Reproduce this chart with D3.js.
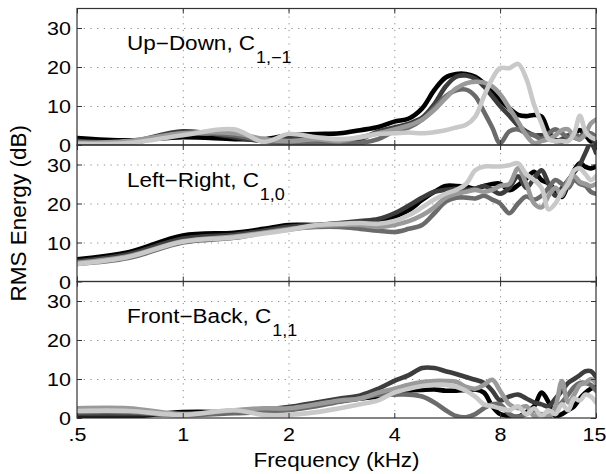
<!DOCTYPE html>
<html>
<head>
<meta charset="utf-8">
<script src="https://cdn.jsdelivr.net/npm/d3@7"></script>
<style>
  body { margin: 0; background: #fff; }
  svg { display: block; }
  text { font-family: "Liberation Sans", Arial, Helvetica, sans-serif; fill: #000; }
</style>
</head>
<body>
<svg id="chart" width="606" height="474"></svg>
<script>
// Frequency grid (kHz) shared by every curve
const freqs = [0.5, 0.7, 1.0, 1.4, 1.7, 2.0, 2.4, 2.8, 3.2, 3.6,
               4.0, 4.4, 4.8, 5.2, 5.6, 6.0, 6.4, 6.8, 7.2, 7.6,
               8.0, 8.5, 9.0, 9.5, 10, 10.5, 11, 11.5, 12, 12.5,
               13, 13.5, 14, 14.5, 15];

const xTicks = [0.5, 1, 2, 4, 8, 15];
const xTickLabels = [".5", "1", "2", "4", "8", "15"];
const yTicks = [0, 10, 20, 30];
const seriesColors = ["#000000", "#3d3d3d", "#6b6b6b", "#9a9a9a", "#c9c9c9"];

const panelNames = ["Up\u2212Down, C", "Left\u2212Right, C", "Front\u2212Back, C"];
const panelSubs = ["1,\u22121", "1,0", "1,1"];

// RMS energy (dB), one row per curve
const upDownLevels = [
  [1.8, 1.2, 2.0, 1.5, 1.5, 2.5, 2.8, 3.0, 3.8, 4.6, 6.0, 6.8, 9.4, 14.1, 17.3, 18.2, 18.2, 17.5, 15.8, 13.7, 11.5, 9.4, 7.7, 7.4, 7.7, 7.3, 3.4, 1.3, 0.9, 1.7, 3.0, 3.8, 2.6, 0.9, 1.3],
  [1.0, 0.8, 3.5, 2.0, 1.0, 1.5, 1.5, 1.0, 1.5, 3.5, 4.5, 5.5, 7.0, 10.5, 15.0, 17.5, 17.8, 17.0, 15.0, 12.5, 10.0, 7.5, 5.0, 3.5, 2.5, 2.5, 2.0, 1.0, 1.5, 2.5, 2.0, 1.5, 4.0, 2.0, 0.5],
  [0.8, 0.5, 3.0, 2.5, 1.0, 0.5, 0.5, 0.3, 0.5, 1.5, 3.5, 4.5, 6.5, 9.5, 12.5, 14.0, 14.2, 12.5, 8.5, 4.5, 0.5, 3.5, 4.0, 3.0, 2.5, 1.5, 3.0, 4.0, 3.0, 2.0, 3.0, 2.0, 2.5, 3.0, 2.0],
  [0.5, 1.0, 3.0, 3.0, 1.5, 1.0, 1.5, 1.0, 2.0, 3.0, 4.0, 5.0, 6.5, 9.0, 12.0, 14.5, 15.8, 16.2, 16.0, 15.0, 13.0, 9.5, 6.0, 2.5, 0.5, 1.0, 1.5, 2.5, 3.8, 4.0, 2.0, 1.5, 3.0, 5.5, 6.5],
  [0.3, 0.5, 2.5, 4.0, 0.8, 2.8, 2.0, 1.5, 2.0, 2.8, 3.0, 3.2, 3.0, 3.3, 3.8, 4.5, 5.2, 7.3, 12.5, 17.0, 19.7, 19.7, 20.8, 17.0, 10.3, 5.5, 1.5, 1.0, 1.0, 1.0, 3.0, 7.5, 3.5, 2.0, 1.5]
];

const leftRightLevels = [
  [5.7, 7.5, 11.8, 12.5, 13.5, 14.5, 14.5, 14.8, 14.5, 15.3, 16.6, 18.3, 20.9, 23.0, 24.5, 24.5, 24.3, 23.8, 24.5, 25.0, 25.1, 23.4, 24.7, 26.4, 28.1, 26.0, 25.1, 23.4, 21.7, 25.0, 28.5, 30.3, 29.4, 29.0, 29.5],
  [5.2, 7.0, 11.0, 12.0, 13.0, 14.0, 14.5, 15.0, 15.5, 16.0, 17.5, 19.5, 21.5, 23.0, 23.5, 23.8, 23.5, 23.8, 24.5, 23.5, 22.5, 24.0, 27.0, 24.0, 26.5, 28.5, 25.0, 22.0, 24.0, 26.0, 28.0, 30.0, 33.0, 35.5, 33.0],
  [4.5, 6.0, 10.0, 11.2, 12.5, 13.5, 14.0, 14.0, 13.5, 13.0, 12.7, 13.5, 14.5, 17.5, 20.5, 21.5, 21.5, 21.3, 22.0, 21.0, 20.0, 17.5, 20.0, 21.8, 21.0, 22.0, 24.0, 26.0, 25.0, 24.0, 26.0, 25.0, 24.5, 23.0, 22.5],
  [4.8, 6.5, 10.3, 11.5, 12.5, 13.3, 14.2, 14.5, 14.5, 14.0, 14.5, 15.5, 17.0, 19.0, 21.5, 22.5, 23.0, 23.5, 23.0, 23.5, 24.5, 25.0, 29.0, 25.0, 20.0, 19.0, 22.0, 24.0, 22.0, 26.0, 27.0, 25.5, 25.0, 24.5, 25.0],
  [4.5, 6.3, 10.2, 11.3, 12.3, 13.2, 14.5, 14.8, 15.0, 14.8, 15.5, 17.0, 19.0, 21.0, 22.5, 23.5, 25.0, 28.5, 29.5, 29.5, 29.5, 29.8, 30.3, 27.5, 26.0, 24.0, 18.5, 20.0, 23.0, 25.0, 28.5, 29.0, 27.5, 26.0, 27.0]
];

const frontBackLevels = [
  [0.3, 0.3, 1.5, 1.5, 1.8, 2.3, 3.3, 4.3, 5.0, 5.5, 6.5, 7.0, 7.2, 7.3, 7.0, 7.0, 7.2, 7.3, 6.5, 3.0, 1.0, 0.5, 0.3, 1.5, 3.0, 6.5, 4.0, 0.5, 1.0, 2.0, 3.0, 5.0, 6.5, 7.5, 8.0],
  [1.0, 1.0, 1.0, 1.8, 2.2, 2.8, 4.0, 5.0, 5.8, 7.5, 9.5, 11.0, 12.8, 12.8, 12.0, 11.3, 10.5, 9.8, 9.0, 7.0, 4.5, 5.5, 6.0, 5.0, 4.0, 3.5, 3.0, 5.0, 7.0, 9.0, 10.0, 11.0, 12.0, 12.0, 10.5],
  [1.5, 1.5, 0.7, 1.2, 1.5, 2.0, 3.0, 4.2, 5.0, 6.0, 6.0, 6.0, 5.5, 4.0, 2.0, 0.5, 0.2, 1.0, 2.5, 3.5, 3.5, 1.0, 0.3, 1.0, 2.0, 0.5, 0.3, 2.0, 4.0, 6.0, 8.0, 9.0, 9.0, 8.5, 7.0],
  [2.5, 2.5, 1.0, 2.0, 2.5, 2.5, 3.5, 4.5, 5.0, 6.5, 7.5, 8.5, 9.2, 9.5, 9.5, 9.3, 8.0, 7.5, 8.5, 9.8, 7.0, 3.5, 2.5, 3.0, 0.5, 1.0, 0.5, 3.0, 9.5, 4.0, 6.0, 8.5, 9.0, 10.0, 9.0],
  [1.8, 1.8, 0.8, 2.0, 0.8, 0.8, 1.5, 2.5, 3.5, 4.5, 6.5, 7.5, 8.2, 8.5, 8.5, 8.0, 7.0, 5.5, 3.5, 3.0, 2.5, 2.0, 3.0, 1.0, 2.5, 0.5, 2.0, 1.0, 3.5, 2.0, 5.0, 4.5, 6.0, 5.5, 4.0]
];

const panelLevels = [upDownLevels, leftRightLevels, frontBackLevels];

// ---- layout ----
const plotLeft = 77, plotRight = 596, plotTop = 8.5, panelH = 136.5;
const squash = "scale(1,0.87)";
const axisColor = "#333";

const svg = d3.select("#chart");
const x = d3.scaleLog().domain([0.5, 15]).range([plotLeft, plotRight]);

const defs = svg.append("defs");

panelLevels.forEach((levels, i) => {
  const y0 = plotTop + i * panelH;
  const y1 = y0 + panelH;
  const y = d3.scaleLinear().domain([0, 35]).range([y1, y0]);
  const g = svg.append("g").attr("class", "panel");

  // dotted grid
  const gridY = g.append("g")
    .attr("transform", `translate(${plotLeft},0)`)
    .call(d3.axisLeft(y).tickValues(yTicks.filter(d => d > 0)).tickSize(-(plotRight - plotLeft)).tickFormat(""));
  const gridX = g.append("g")
    .attr("transform", `translate(0,${y1})`)
    .call(d3.axisBottom(x).tickValues(xTicks.slice(1, -1)).tickSize(-panelH).tickFormat(""));
  [gridY, gridX].forEach(sel => {
    sel.select(".domain").remove();
    sel.selectAll("line")
      .attr("stroke", "#8a8a8a")
      .attr("stroke-width", 1)
      .attr("stroke-dasharray", "1.2,5.5");
  });

  // curves
  const clipId = "clip" + i;
  defs.append("clipPath").attr("id", clipId)
    .append("rect").attr("x", plotLeft).attr("y", y0).attr("width", plotRight - plotLeft).attr("height", panelH);

  const line = d3.line()
    .x((d, k) => x(freqs[k]))
    .y(d => y(d))
    .curve(d3.curveCatmullRom.alpha(0.5));

  g.append("g").attr("clip-path", `url(#${clipId})`)
    .selectAll("path")
    .data(levels)
    .join("path")
    .attr("d", line)
    .attr("fill", "none")
    .attr("stroke", (d, k) => seriesColors[k])
    .attr("stroke-width", 4.6)
    .attr("stroke-linejoin", "round")
    .attr("stroke-linecap", "round");

  // inward tick marks on all four sides
  const tickAxes = [
    g.append("g").attr("transform", `translate(${plotRight},0)`).call(d3.axisRight(y).tickValues(yTicks).tickSize(-5).tickFormat("")),
    g.append("g").attr("transform", `translate(0,${y0})`).call(d3.axisTop(x).tickValues(xTicks).tickSize(-5).tickFormat("")),
    g.append("g").attr("transform", `translate(0,${y1})`).call(d3.axisBottom(x).tickValues(xTicks).tickSize(-5).tickFormat(""))
  ];
  tickAxes.forEach(sel => {
    sel.select(".domain").remove();
    sel.selectAll("line").attr("stroke", axisColor);
  });

  // left axis with labels
  const yAxis = g.append("g")
    .attr("transform", `translate(${plotLeft},0)`)
    .call(d3.axisLeft(y).tickValues(yTicks).tickSize(-5).tickPadding(6));
  yAxis.select(".domain").remove();
  yAxis.selectAll("line").attr("stroke", axisColor);
  yAxis.selectAll("text")
    .attr("font-size", 21.5)
    .attr("font-family", null)
    .attr("fill", "#000")
    .attr("dy", "0.36em")
    .attr("transform", squash);

  // frame
  g.append("rect")
    .attr("x", plotLeft).attr("y", y0)
    .attr("width", plotRight - plotLeft).attr("height", panelH)
    .attr("fill", "none").attr("stroke", axisColor).attr("stroke-width", 1.2);

  // panel title with subscript
  const title = g.append("text")
    .attr("transform", `translate(127,${y(24.3)}) ${squash}`)
    .attr("font-size", 22.5);
  title.append("tspan").text(panelNames[i]);
  title.append("tspan").attr("dx", 1).attr("dy", 15).attr("font-size", 18).text(panelSubs[i]);
});

// bottom frequency labels
const xAxis = svg.append("g")
  .attr("transform", `translate(0,${plotTop + 3 * panelH})`)
  .call(d3.axisBottom(x).tickValues(xTicks).tickSize(0).tickFormat((d, k) => xTickLabels[k]));
xAxis.select(".domain").remove();
xAxis.selectAll("text")
  .attr("font-size", 21.5)
  .attr("font-family", null)
  .attr("fill", "#000")
  .attr("y", 0)
  .attr("dy", null)
  .attr("dx", (d, k) => (k === xTicks.length - 1 ? -2 : 0))
  .attr("transform", `translate(0,23) ${squash}`);

svg.append("text")
  .attr("transform", `translate(${(plotLeft + plotRight) / 2},467) ${squash}`)
  .attr("text-anchor", "middle")
  .attr("font-size", 22.5)
  .text("Frequency (kHz)");

svg.append("text")
  .attr("transform", `translate(26,${plotTop + 1.5 * panelH}) rotate(-90)`)
  .attr("text-anchor", "middle")
  .attr("font-size", 22.5)
  .text("RMS Energy (dB)");
</script>
</body>
</html>
